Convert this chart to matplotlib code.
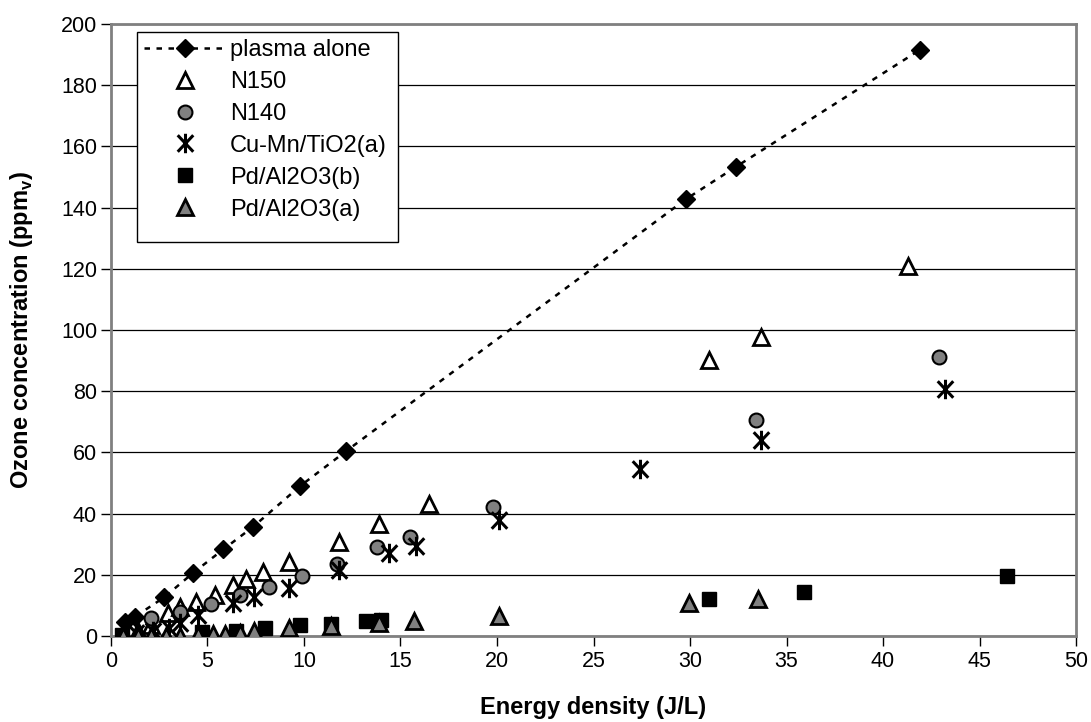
import matplotlib
matplotlib.use("Agg")
import matplotlib.pyplot as plt
from matplotlib.path import Path
from matplotlib.patches import Rectangle

plt.rcParams['font.family'] = ['Liberation Sans', 'DejaVu Sans']

# ---- data ----
plasma_x = [0.73, 1.24, 2.75, 4.27, 5.82, 7.37, 9.8, 12.2, 29.8, 32.4, 41.9]
plasma_y = [4.7, 6.3, 12.6, 20.7, 28.3, 35.7, 49.0, 60.5, 142.8, 153.4, 191.5]

n150_x = [0.7, 1.4, 2.1, 2.95, 3.6, 4.4, 5.4, 6.3, 7.0, 7.9, 9.2, 11.8, 13.9, 16.5, 31.0, 33.7, 41.3]
n150_y = [0.5, 1.5, 3.5, 7.4, 9.6, 11.2, 13.4, 16.7, 18.5, 21.0, 24.3, 30.8, 36.6, 43.1, 90.2, 97.8, 120.9]

n140_x = [2.1, 3.6, 5.2, 6.7, 8.2, 9.9, 11.7, 13.8, 15.5, 19.8, 33.4, 42.9]
n140_y = [5.8, 7.9, 10.3, 13.4, 16.1, 19.6, 23.4, 29.2, 32.5, 42.3, 70.6, 91.3]

cumn_x = [1.3, 2.2, 3.0, 3.6, 4.5, 6.3, 7.4, 9.2, 11.8, 14.4, 15.8, 20.1, 27.4, 33.7, 43.2]
cumn_y = [1.0, 1.5, 2.5, 4.1, 7.0, 10.9, 12.9, 15.6, 21.6, 27.0, 29.4, 37.9, 54.6, 64.0, 80.6]

pdb_x = [0.55, 4.7, 6.5, 8.0, 9.8, 11.4, 13.2, 14.0, 31.0, 35.9, 46.4]
pdb_y = [0.3, 1.2, 1.8, 2.5, 3.5, 4.0, 5.0, 5.3, 12.1, 14.5, 19.7]

pda_x = [0.6, 1.4, 2.1, 2.85, 3.6, 4.5, 5.3, 5.9, 6.7, 7.4, 9.2, 11.4, 13.9, 15.7, 20.1, 29.95, 33.5]
pda_y = [0.0, 0.0, 0.0, 0.0, 0.0, 0.3, 0.5, 0.8, 1.0, 1.5, 2.5, 3.3, 4.2, 5.0, 6.5, 10.7, 12.2]

labels = ['plasma alone', 'N150', 'N140', 'Cu-Mn/TiO2(a)', 'Pd/Al2O3(b)', 'Pd/Al2O3(a)']
xticks = list(range(0, 51, 5))
yticks = list(range(0, 201, 20))

# asterisk marker: X with a vertical bar
star = Path([(0, -1), (0, 1), (-0.8, -0.85), (0.8, 0.85), (-0.8, 0.85), (0.8, -0.85)],
            [Path.MOVETO, Path.LINETO, Path.MOVETO, Path.LINETO, Path.MOVETO, Path.LINETO])

FS = 15.5

fig = plt.figure(figsize=(10.91, 7.22), dpi=100)
ax = fig.add_axes([0.1017, 0.1191, 0.8846, 0.8477])

ax.plot(plasma_x, plasma_y, linestyle=(0, (2.2, 2.6)), color='black', lw=1.8,
        marker='D', ms=9.5, mfc='black', mec='black', label=labels[0], zorder=5)
ax.plot(n150_x, n150_y, linestyle='none', marker='^', ms=11, mfc='white',
        mec='black', mew=2, label=labels[1], zorder=4)
ax.plot(n140_x, n140_y, linestyle='none', marker='o', ms=10, mfc='#808080',
        mec='black', mew=1.5, label=labels[2], zorder=4)
ax.plot(cumn_x, cumn_y, linestyle='none', marker=star, ms=14,
        mec='black', mew=2.2, color='black', label=labels[3], zorder=4)
ax.plot(pdb_x, pdb_y, linestyle='none', marker='s', ms=10, mfc='black',
        mec='black', label=labels[4], zorder=4)
ax.plot(pda_x, pda_y, linestyle='none', marker='^', ms=11, mfc='#808080',
        mec='black', mew=2, label=labels[5], zorder=4)

ax.set_xlim(0, 50)
ax.set_ylim(0, 200)
ax.set_xticks(xticks)
ax.set_yticks(yticks)
ax.tick_params(axis='both', labelsize=FS, direction='out', length=7,
               width=1, color='black')
ax.tick_params(axis='x', pad=4)
ax.tick_params(axis='y', pad=3)
ax.yaxis.grid(True, color='black', lw=0.9)
ax.set_axisbelow(True)
for s in ax.spines.values():
    s.set_color('#808080')
    s.set_linewidth(2)

ax.set_xlabel('Energy density (J/L)', fontsize=17, fontweight='bold')
ax.set_ylabel('Ozone concentration (ppm$_\\mathregular{v}$)', fontsize=17,
              fontweight='bold')
ax.xaxis.set_label_coords(0.5, -0.098)
ax.yaxis.set_label_coords(-0.079, 0.5)

# legend frame (drawn as its own box to match the reference proportions)
ax.add_patch(Rectangle((0.0269, 0.6438), 0.2705, 0.3431, transform=ax.transAxes,
                       facecolor='white', edgecolor='black', lw=1,
                       zorder=6, clip_on=False))
leg = ax.legend(loc='upper left', bbox_to_anchor=(0.0269, 0.987), fontsize=17,
                frameon=False, borderpad=0.3, labelspacing=0.42,
                handlelength=3.5, handletextpad=0.15, borderaxespad=0)
leg.set_zorder(7)

fig.savefig('out.png', dpi=100)
